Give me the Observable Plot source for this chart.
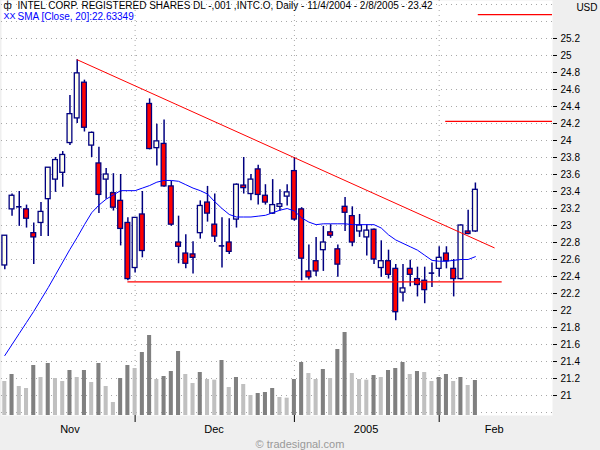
<!DOCTYPE html>
<html><head><meta charset="utf-8">
<script src="https://cdn.jsdelivr.net/npm/d3@7"></script>
<script src="https://cdn.jsdelivr.net/npm/@observablehq/plot@0.6"></script>
<style>
body{margin:0;background:#efefef;}
#chart{position:relative;width:600px;height:450px;}
#chart svg{position:absolute;left:0;top:0;}
</style></head><body><div id="chart"></div>
<script>
// Daily bars 11/4/2004 - 2/8/2005 (index = trading day)
const opens  = [22.53,23.19,23.22,23.19,22.91,23.03,23.31,23.54,23.62,23.97,24.26,24.68,23.94,23.73,23.54,23.38,23.29,23.03,22.50,23.13,24.43,23.91,23.96,23.46,22.80,22.67,22.66,22.91,23.27,23.01,22.76,22.80,23.07,23.47,23.37,23.66,23.35,23.14,23.22,23.34,23.64,23.19,22.46,22.58,22.71,22.92,22.72,23.22,23.11,22.93,22.86,22.95,22.50,22.58,22.49,22.21,22.49,22.37,22.35,22.44,22.49,22.67,22.49,22.37,22.93,22.93];
const highs  = [22.88,23.37,23.40,23.24,23.03,23.27,23.68,23.80,23.87,24.53,24.95,24.71,24.10,23.92,23.67,23.61,23.60,23.09,23.09,23.40,24.49,24.19,24.24,23.52,23.11,22.89,22.81,23.29,23.46,23.37,23.09,23.08,23.49,23.80,23.60,23.71,23.48,23.54,23.42,23.48,23.80,23.21,22.77,22.86,22.99,23.01,22.77,23.33,23.22,23.13,23.01,22.96,22.82,22.71,22.54,22.54,22.59,22.51,22.51,22.56,22.75,22.75,22.60,23.01,23.18,23.50];
const lows   = [22.48,23.11,22.99,22.97,22.54,22.87,22.87,23.39,23.45,23.94,24.20,24.10,23.80,23.14,23.31,23.17,22.76,22.35,22.44,22.62,23.89,23.70,23.45,22.99,22.55,22.49,22.43,22.84,23.04,22.80,22.50,22.66,22.97,23.37,23.29,23.24,23.24,23.13,23.17,23.23,23.05,22.35,22.36,22.40,22.46,22.85,22.39,22.93,22.75,22.86,22.64,22.54,22.39,22.37,21.88,22.10,22.28,22.16,22.08,22.27,22.39,22.49,22.16,22.36,22.89,22.92];
const closes = [22.88,23.35,23.22,23.08,22.86,23.16,23.68,23.77,23.83,24.31,24.79,24.15,24.09,23.36,23.60,23.21,22.96,22.37,23.09,22.70,23.90,23.99,23.46,23.01,22.75,22.55,22.62,23.23,23.14,22.87,22.76,22.69,23.48,23.44,23.54,23.36,23.27,23.24,23.25,23.39,23.07,22.61,22.39,22.46,22.80,22.88,22.54,23.15,22.80,23.00,22.94,22.60,22.58,22.42,21.98,22.26,22.42,22.30,22.24,22.44,22.62,22.58,22.37,23.00,22.90,23.42];
// volume, millions of shares
const volumes = [51,61.5,43.5,40.5,75,57,78,55.5,51,67.5,57,67.5,49.5,78,43.5,19.5,55.5,75,70.5,94.5,120,54,58.5,66,96,61.5,48,64.5,54,53,82.5,42,57,46.5,30,33,34.5,40.5,27,26,54,79.5,63,54,69,55.5,99,124.5,63,54,53,60,57,67.5,70.5,79.5,61.5,66,64.5,51,57,61.5,51,57,45,52.5];
// SMA(Close,20) as drawn
const sma20 = [21.47,21.60,21.73,21.86,21.99,22.13,22.27,22.42,22.57,22.72,22.86,23.01,23.15,23.24,23.31,23.36,23.41,23.41,23.41,23.44,23.47,23.51,23.53,23.53,23.52,23.48,23.44,23.41,23.37,23.28,23.20,23.13,23.10,23.10,23.10,23.11,23.12,23.15,23.18,23.20,23.17,23.09,23.04,23.01,23.02,23.02,23.02,23.02,23.01,23.01,23.01,23.01,22.97,22.89,22.83,22.79,22.75,22.71,22.65,22.59,22.58,22.58,22.59,22.60,22.60,22.63349];
// drawing tools
const trendLine = [{i:10, p:24.95},{i:67.6, p:22.738}];
const supportLevel = {p:22.337, from:17, to:68.7};
const rightLevels = [{p:25.48, from:65.4},{p:24.224, from:60.9}];
// axes
const yTicks = [21,21.2,21.4,21.6,21.8,22,22.2,22.4,22.6,22.8,23,23.2,23.4,23.6,23.8,24,24.2,24.4,24.6,24.8,25,25.2];
const gridLevels = [20.8,21,21.2,21.4,21.6,21.8,22,22.2,22.4,22.6,22.8,23,23.2,23.4,23.6,23.8,24,24.2,24.4,24.6,24.8,25,25.2,25.4,25.6];
const monthTicks = [18,40,60];
const monthLabels = [{i:9,label:"Nov"},{i:28.9,label:"Dec"},{i:49.9,label:"2005"},{i:67.6,label:"Feb"}];
const titleText = "INTEL CORP. REGISTERED SHARES DL -,001 ,INTC.O, Daily - 11/4/2004 - 2/8/2005 - 23.42";
const smaText = "SMA [Close, 20]:22.63349";

const font = "'Liberation Sans', Arial, sans-serif";
const candles = opens.map((o,i)=>({i, open:o, high:highs[i], low:lows[i], close:closes[i], sma:sma20[i]}));
const vols = volumes.map((v,i)=>({i, v, c: i>0 && v>volumes[i-1] ? "#808080" : "#c0c0c0"}));
const X0 = -0.456, X1 = 75.65;
const common = {width:600, height:450, marginLeft:1, marginRight:48, marginTop:0, marginBottom:35,
  x:{type:"linear", domain:[X0, X1], axis:null}};
const priceY = {domain:[20.765, 25.647]};

const layerA = Plot.plot({...common, y:{...priceY},
  style:{background:"#efefef", fontFamily:font, fontSize:"10px", color:"black"},
  marks:[
    Plot.frame({fill:"white", stroke:"none"}),
    Plot.ruleY(gridLevels, {stroke:"#a8a8a8", strokeDasharray:"1,4"}),
    Plot.ruleX(monthTicks, {stroke:"#a8a8a8", strokeDasharray:"1,4"}),
    Plot.axisY(yTicks, {anchor:"right", tickSize:4, tickPadding:4, label:null, tickFormat:d=>String(d), fontSize:10}),
    Plot.axisX(monthTicks, {tickSize:7, tickFormat:()=>"", label:null}),
    Plot.text(monthLabels, {x:"i", text:"label", frameAnchor:"bottom", dy:14, lineAnchor:"middle", fontSize:11}),
    Plot.text(["ф"], {frameAnchor:"top-left", dx:2, dy:1, lineAnchor:"top", textAnchor:"start", fontSize:10}),
    Plot.text([titleText], {frameAnchor:"top-left", dx:16, dy:1, lineAnchor:"top", textAnchor:"start", fontSize:10}),
    Plot.text(["XX"], {frameAnchor:"top-left", dx:2, dy:12, lineAnchor:"top", textAnchor:"start", fontSize:9, fill:"#0000ff"}),
    Plot.text([smaText], {frameAnchor:"top-left", dx:16, dy:12, lineAnchor:"top", textAnchor:"start", fontSize:10, fill:"#0000ff"}),
    Plot.text(["USD"], {frameAnchor:"top-right", dx:45, dy:7, lineAnchor:"middle", textAnchor:"end", fontSize:10}),
    Plot.text(["© tradesignal.com"], {frameAnchor:"bottom", dx:23, dy:29, lineAnchor:"middle", fontSize:11, fill:"#999999"})
  ]});

const layerB = Plot.plot({...common, y:{domain:[0,120], range:[415,335], axis:null}, color:{type:"identity"},
  style:{background:"transparent"},
  marks:[
    Plot.rectY(vols, {x1:d=>d.i-0.28, x2:d=>d.i+0.28, y:"v", fill:"c"})
  ]});

const layerC = Plot.plot({...common, y:{...priceY, axis:null}, color:{type:"identity"},
  style:{background:"transparent"},
  marks:[
    Plot.ruleX(candles, {x:"i", y1:"low", y2:"high", stroke:"#000080", strokeWidth:1.5}),
    Plot.rect(candles.filter(d=>d.open!==d.close), {x1:d=>d.i-0.33, x2:d=>d.i+0.33, y1:"open", y2:"close",
      fill:d=>d.close<d.open ? "#ff0000" : "#ffffee", stroke:"#000080", strokeWidth:1.3}),
    Plot.ruleY(candles.filter(d=>d.open===d.close), {y:"close", x1:d=>d.i-0.38, x2:d=>d.i+0.38, stroke:"#000080", strokeWidth:1.6}),
    Plot.line(candles, {x:"i", y:"sma", stroke:"#0000ff", strokeWidth:1}),
    Plot.line(trendLine, {x:"i", y:"p", stroke:"#ff0000", strokeWidth:1}),
    Plot.ruleY([supportLevel], {y:"p", x1:"from", x2:"to", stroke:"#ff0000", strokeWidth:1.2}),
    Plot.ruleY(rightLevels, {y:"p", x1:"from", x2:()=>X1, stroke:"#ff0000", strokeWidth:1.2})
  ]});

const el = document.getElementById("chart");
el.append(layerA, layerB, layerC);
</script></body></html>
